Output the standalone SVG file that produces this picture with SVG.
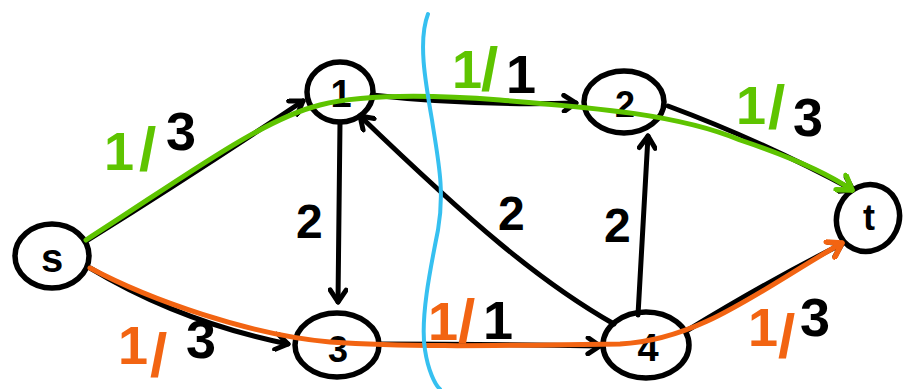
<svg xmlns="http://www.w3.org/2000/svg" width="904" height="389" viewBox="0 0 904 389">
  <style>
    .node { fill: none; stroke: #000; stroke-width: 5.5; }
    .lbl { font-family: "Liberation Sans", Arial, sans-serif; font-weight: bold; fill: #000; }
    .edge { fill: none; stroke: #000; stroke-width: 5; stroke-linecap: round; }
    .flow-g { fill: none; stroke: #5ec400; stroke-width: 5; stroke-linecap: round; }
    .flow-o { fill: none; stroke: #f26412; stroke-width: 5; stroke-linecap: round; }
    .cut { fill: none; stroke: #36c0f0; stroke-width: 4; stroke-linecap: round; }
    .cap { font-family: "Liberation Sans", Arial, sans-serif; font-weight: bold; font-size: 54px; }
    .cap2 { font-family: "Liberation Sans", Arial, sans-serif; font-weight: bold; font-size: 48px; fill: #000; }
    .sl { font-size: 62px; }
    .g { fill: #5ec400; }
    .o { fill: #f26412; }
    .k { fill: #000; }
  </style>
  <defs>
    <marker id="ah" viewBox="0 0 20 20" refX="16" refY="10" markerWidth="20" markerHeight="20" markerUnits="userSpaceOnUse" orient="auto">
      <path d="M4,2 L16,10 L4,18" fill="none" stroke="#000" stroke-width="5" stroke-linecap="round" stroke-linejoin="round"/>
    </marker>
    <marker id="ahg" viewBox="0 0 20 20" refX="16" refY="10" markerWidth="22" markerHeight="22" markerUnits="userSpaceOnUse" orient="auto">
      <path d="M4,2 L16,10 L4,18" fill="none" stroke="#5ec400" stroke-width="5" stroke-linecap="round" stroke-linejoin="round"/>
    </marker>
    <marker id="aho" viewBox="0 0 20 20" refX="16" refY="10" markerWidth="22" markerHeight="22" markerUnits="userSpaceOnUse" orient="auto">
      <path d="M4,2 L16,10 L4,18" fill="none" stroke="#f26412" stroke-width="5" stroke-linecap="round" stroke-linejoin="round"/>
    </marker>
  </defs>

  <!-- capacity edges -->
  <g id="edges">
    <path class="edge" d="M88,240 Q200,170 303,101" marker-end="url(#ah)"/>
    <path class="edge" d="M372,95 Q470,106 576,103" marker-end="url(#ah)"/>
    <path class="edge" d="M668,106 Q760,140 853,190" marker-end="url(#ah)"/>
    <path class="edge" d="M340,122 L338,302" marker-end="url(#ah)"/>
    <path class="edge" d="M90,268 Q180,322 288,344" marker-end="url(#ah)"/>
    <path class="edge" d="M378,344 Q490,344 600,346" marker-end="url(#ah)"/>
    <path class="edge" d="M638,315 L648,136" marker-end="url(#ah)"/>
    <path class="edge" d="M614,324 C540,282 470,222 360,116" marker-end="url(#ah)"/>
    <path class="edge" d="M688,330 Q770,280 842,244" marker-end="url(#ah)"/>
  </g>

  <!-- nodes -->
  <g id="node-s">
    <ellipse class="node" cx="52" cy="256" rx="37" ry="32"/>
    <text class="lbl" x="52" y="272" font-size="40" text-anchor="middle">s</text>
  </g>
  <g id="node-1">
    <ellipse class="node" cx="340" cy="92" rx="33" ry="30"/>
    <text class="lbl" x="341" y="107" font-size="38" text-anchor="middle">1</text>
  </g>
  <g id="node-2">
    <ellipse class="node" cx="624" cy="102" rx="40" ry="31"/>
    <text class="lbl" x="625" y="117" font-size="36" text-anchor="middle">2</text>
  </g>
  <g id="node-3">
    <ellipse class="node" cx="337" cy="345" rx="42" ry="32"/>
    <text class="lbl" x="338" y="362" font-size="36" text-anchor="middle">3</text>
  </g>
  <g id="node-4">
    <ellipse class="node" cx="646" cy="345" rx="43" ry="33"/>
    <text class="lbl" x="648" y="361" font-size="38" text-anchor="middle">4</text>
  </g>
  <g id="node-t">
    <ellipse class="node" cx="868" cy="218" rx="31" ry="34" transform="rotate(25 868 218)"/>
    <text class="lbl" x="869" y="230" font-size="36" text-anchor="middle">t</text>
  </g>

  <!-- flow paths and cut -->
  <g id="flows">
    <path class="flow-g" d="M86,240 C180,180 260,120 320,105 C360,95 420,94 500,100 C600,108 680,115 740,140 C800,160 830,175 852,190" marker-end="url(#ahg)"/>
    <path class="flow-o" d="M90,268 C150,300 250,335 330,342 C420,348 520,345 620,344 C700,340 760,290 842,243" marker-end="url(#aho)"/>
    <path class="cut" d="M428,14 C418,40 425,80 432,120 C438,160 445,190 438,230 C430,270 420,320 425,350 C428,370 435,385 440,389"/>
  </g>

  <!-- edge labels: flow / capacity -->
  <g id="labels">
    <text class="cap"><tspan class="g" x="104" y="170">1</tspan><tspan class="g sl" x="139" y="170">/</tspan><tspan class="k" x="166" y="150">3</tspan></text>
    <text class="cap"><tspan class="g" x="452" y="88">1</tspan><tspan class="g sl" x="481" y="90">/</tspan><tspan class="k" x="506" y="93">1</tspan></text>
    <text class="cap"><tspan class="g" x="736" y="124">1</tspan><tspan class="g sl" x="768" y="128">/</tspan><tspan class="k" x="793" y="136">3</tspan></text>
    <text class="cap"><tspan class="o" x="118" y="364">1</tspan><tspan class="o sl" x="150" y="376">/</tspan><tspan class="k" x="186" y="358">3</tspan></text>
    <text class="cap"><tspan class="o" x="428" y="340">1</tspan><tspan class="o sl" x="458" y="342">/</tspan><tspan class="k" x="483" y="339">1</tspan></text>
    <text class="cap"><tspan class="o" x="748" y="346">1</tspan><tspan class="o sl" x="778" y="357">/</tspan><tspan class="k" x="800" y="336">3</tspan></text>
    <text class="cap2" x="296" y="238">2</text>
    <text class="cap2" x="498" y="230">2</text>
    <text class="cap2" x="604" y="242">2</text>
  </g>
</svg>
